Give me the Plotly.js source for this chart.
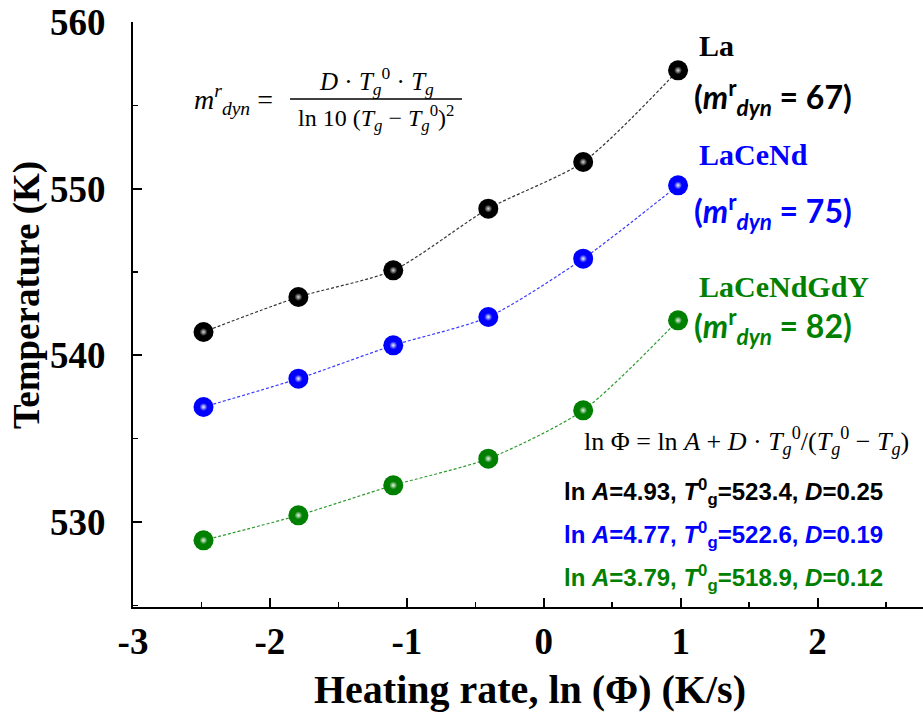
<!DOCTYPE html>
<html>
<head>
<meta charset="utf-8">
<script src="https://cdn.plot.ly/plotly-3.0.1.min.js"></script>
<style>html,body{margin:0;padding:0;background:#fff;}#chart{width:923px;height:715px;}</style>
</head>
<body>
<div id="chart"></div>
<script>
// ---- data ----
var lnPhi = [-2.485, -1.792, -1.099, -0.405, 0.288, 0.981];
var tLa = [541.4, 543.5, 545.1, 548.8, 551.6, 557.1];
var tLaCeNd = [536.9, 538.6, 540.6, 542.3, 545.8, 550.2];
var tLaCeNdGdY = [528.9, 530.4, 532.2, 533.8, 536.7, 542.1];
var seriesNames = ['La', 'LaCeNd', 'LaCeNdGdY'];
var mdyn = [67, 75, 82];
var lnA = ['4.93', '4.77', '3.79'];
var Tg0 = ['523.4', '522.6', '518.9'];
var Dval = ['0.25', '0.19', '0.12'];
var xTicks = [-3, -2, -1, 0, 1, 2];
var yTicks = [530, 540, 550, 560];
var xTitle = 'Heating rate, ln (Φ) (K/s)';
var yTitle = 'Temperature (K)';

// ---- style ----
var colors = ['#000000', '#0000ff', '#008000'];
var lineColors = ['#333333', '#3a3aff', '#2e9a2e'];
var L = 133, T = 22, W = 790, H = 585;
function px(x) { return (x - L) / W; }
function py(y) { return (T + H - y) / H; }

var ys = [tLa, tLaCeNd, tLaCeNdGdY];
var traces = [];
ys.forEach(function (y, i) {
  traces.push({
    x: lnPhi, y: y, type: 'scatter', mode: 'lines+markers', name: seriesNames[i],
    line: {color: lineColors[i], width: 1.2, dash: '3px,2px', shape: 'spline', smoothing: 0.7},
    marker: {color: colors[i], size: 20, line: {width: 0}},
    showlegend: false, hoverinfo: 'skip'
  });
  traces.push({
    x: lnPhi, y: y, type: 'scatter', mode: 'markers', name: seriesNames[i] + ' shine',
    marker: {color: colors[i], size: 8, line: {width: 0},
      gradient: {type: 'radial', color: i === 0 ? '#d8d8d8' : '#eef4ee'}},
    showlegend: false, hoverinfo: 'skip'
  });
});

var serif = 'Liberation Serif, Times New Roman, serif';
var sans = 'Liberation Sans, Arial, sans-serif';
var calib = 'Lato, Open Sans, sans-serif';

var ann = [];
var nameY = [46, 155, 287];
var mY = [97, 212, 327];
for (var i = 0; i < 3; i++) {
  ann.push({xref: 'paper', yref: 'paper', x: px(697), y: py(nameY[i]), xanchor: 'left', yanchor: 'middle',
    text: '<b>' + seriesNames[i] + '</b>', showarrow: false,
    font: {family: serif, size: 30, color: colors[i]}});
  ann.push({xref: 'paper', yref: 'paper', x: px(692), y: py(mY[i]), xanchor: 'left', yanchor: 'middle',
    text: '<b>(<i>m</i><sup>r</sup><sub><i>dyn</i></sub> = ' + mdyn[i] + ')</b>', showarrow: false,
    font: {family: calib, size: 32, color: colors[i]}});
  ann.push({xref: 'paper', yref: 'paper', x: px(562), y: py(492 + 43 * i), xanchor: 'left', yanchor: 'middle',
    text: '<b>ln <i>A</i>=' + lnA[i] + ', <i>T</i><sup>0</sup><sub>g</sub>=' + Tg0[i] + ', <i>D</i>=' + Dval[i] + '</b>',
    showarrow: false, font: {family: sans, size: 24, color: colors[i]}});
}
ann.push({xref: 'paper', yref: 'paper', x: px(582), y: py(441), xanchor: 'left', yanchor: 'middle',
  text: 'ln Φ = ln <i>A</i> + <i>D</i> · <i>T</i><sub><i>g</i></sub><sup>0</sup>/(<i>T</i><sub><i>g</i></sub><sup>0</sup> − <i>T</i><sub><i>g</i></sub>)',
  showarrow: false, font: {family: serif, size: 26, color: '#000'}});
ann.push({xref: 'paper', yref: 'paper', x: px(192), y: py(100), xanchor: 'left', yanchor: 'middle',
  text: '<i>m</i><sup><i>r</i></sup><sub><i>dyn</i></sub> =', showarrow: false,
  font: {family: serif, size: 28, color: '#000'}});
ann.push({xref: 'paper', yref: 'paper', x: px(376), y: py(81), xanchor: 'center', yanchor: 'middle',
  text: '<i>D</i> · <i>T</i><sub><i>g</i></sub><sup>0</sup> · <i>T</i><sub><i>g</i></sub>', showarrow: false,
  font: {family: serif, size: 25, color: '#000'}});
ann.push({xref: 'paper', yref: 'paper', x: px(376), y: py(118), xanchor: 'center', yanchor: 'middle',
  text: 'ln 10 (<i>T</i><sub><i>g</i></sub> − <i>T</i><sub><i>g</i></sub><sup>0</sup>)<sup>2</sup>', showarrow: false,
  font: {family: serif, size: 24, color: '#000'}});
// axis titles
ann.push({xref: 'paper', yref: 'paper', x: px(27), y: py(295), xanchor: 'center', yanchor: 'middle',
  textangle: -90, text: '<b>' + yTitle + '</b>', showarrow: false,
  font: {family: serif, size: 37, color: '#000'}});
ann.push({xref: 'paper', yref: 'paper', x: px(530), y: py(689), xanchor: 'center', yanchor: 'middle',
  text: '<b>' + xTitle + '</b>', showarrow: false,
  font: {family: serif, size: 40, color: '#000'}});

var layout = {
  width: 923, height: 715,
  margin: {l: L, r: 0, t: T, b: 715 - T - H},
  paper_bgcolor: '#fff', plot_bgcolor: '#fff',
  showlegend: false,
  xaxis: {
    range: [-3, 2.77], tickvals: xTicks, ticktext: xTicks.map(String),
    showline: true, linecolor: '#000', linewidth: 2, mirror: false,
    ticks: 'inside', ticklen: 9, tickwidth: 2, tickcolor: '#000',
    minor: {dtick: 0.5, ticks: 'inside', ticklen: 5, tickwidth: 1.5, tickcolor: '#000', showgrid: false},
    showgrid: false, zeroline: false, ticklabelstandoff: 1,
    tickfont: {family: serif, size: 37, weight: 'bold', color: '#000'}
  },
  yaxis: {
    range: [524.9, 560], tickvals: yTicks, ticktext: yTicks.map(String),
    showline: true, linecolor: '#000', linewidth: 2, mirror: false,
    ticks: 'inside', ticklen: 9, tickwidth: 2, tickcolor: '#000',
    minor: {dtick: 5, tick0: 530, ticks: 'inside', ticklen: 5, tickwidth: 1.5, tickcolor: '#000', showgrid: false},
    showgrid: false, zeroline: false, ticklabelstandoff: 18,
    tickfont: {family: serif, size: 37, weight: 'bold', color: '#000'}
  },
  annotations: ann,
  shapes: [{type: 'line', xref: 'paper', yref: 'paper', x0: px(290), x1: px(462), y0: py(99), y1: py(99),
    line: {color: '#000', width: 1.3}}]
};

Plotly.newPlot('chart', traces, layout, {displayModeBar: false, staticPlot: true});
</script>
</body>
</html>
